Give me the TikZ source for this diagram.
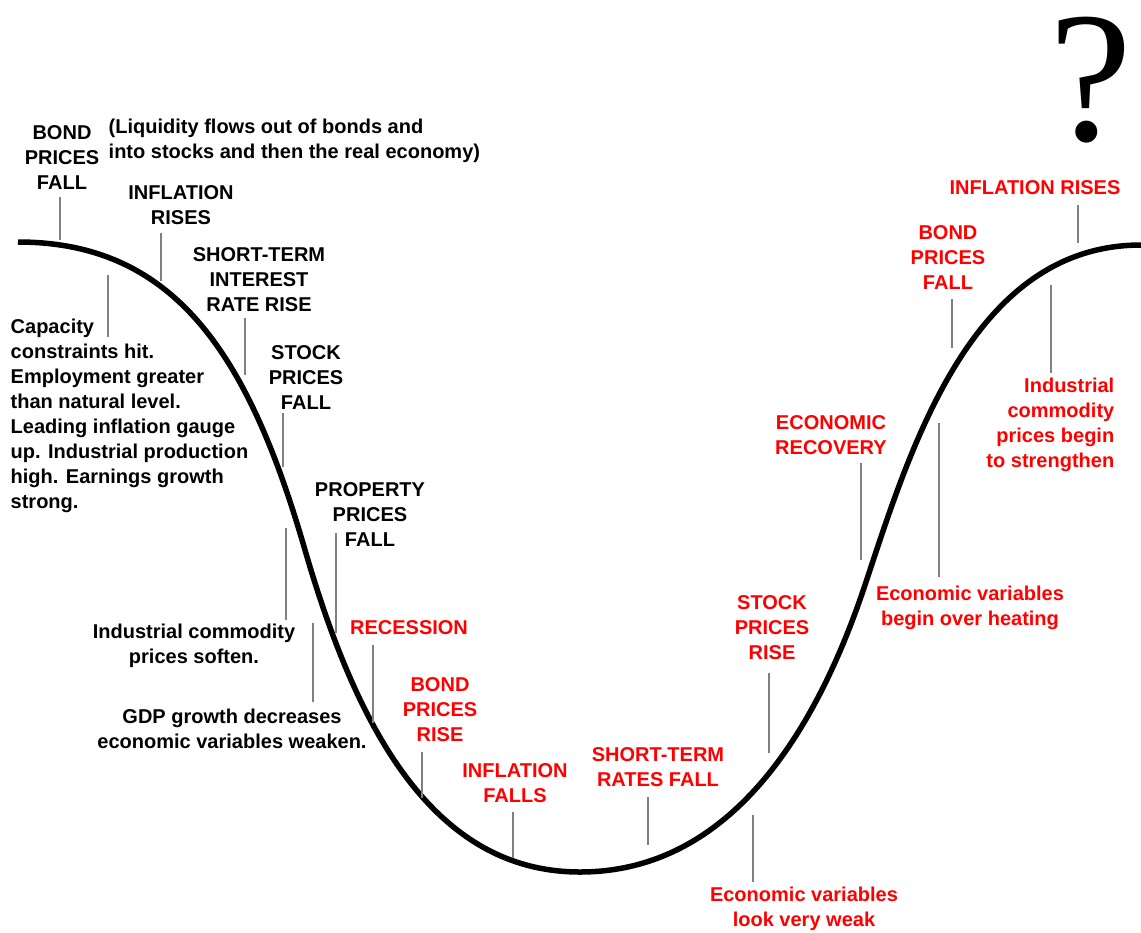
\documentclass[tikz,border=0pt]{standalone}
\usepackage{fontspec}
\setmainfont{Liberation Sans}
\newfontfamily\qmarkfont{Liberation Serif}

\definecolor{tickgray}{RGB}{128,128,128}
\definecolor{cyclered}{RGB}{255,0,0}

\tikzset{
  cycle curve/.style={line width=0.055cm},
  tick/.style={draw=tickgray, line width=0.022cm},
  lbl/.style={inner sep=0pt, align=center, anchor=north,
    font=\bfseries\fontsize{5.69}{7.11}\selectfont},
  redlbl/.style={lbl, text=cyclered},
}

\begin{document}
\begin{tikzpicture}[x=0.01cm, y=-0.01cm]

  \fill[white] (0,0) rectangle (1141,932);
  \useasboundingbox (0,0) rectangle (1141,932);

  \coordinate (peakL) at (18,242);
  \coordinate (fallmid) at (305,550);
  \coordinate (trough) at (580,872);
  \coordinate (risemid) at (865,585);
  \coordinate (peakR) at (1141,245);

  \draw[cycle curve] (peakL)
    .. controls (178,242) and (250,360) .. (fallmid)
    .. controls (355,722) and (430,872) .. (trough)
    .. controls (720,872) and (810,750) .. (risemid)
    .. controls (910,450) and (971,245) .. (peakR);

  \node[lbl] (bondfallL) at (62,125) {BOND\\PRICES\\FALL};
  \node[lbl, align=left, anchor=north west] (liquidity) at (108,118)
    {(Liquidity flows out of bonds and\\into stocks and then the real economy)};
  \node[lbl] (inflriseL) at (181,185) {INFLATION\\RISES};
  \node[lbl] (ratesrise) at (259,247) {SHORT-TERM\\INTEREST\\RATE RISE};
  \node[lbl] (stockfall) at (306,345) {STOCK\\PRICES\\FALL};
  \node[lbl] (propfall) at (370,482) {PROPERTY\\PRICES\\FALL};
  \node[lbl, align=left, anchor=north west] (capacity) at (10,318)
    {Capacity\\constraints hit.\\Employment greater\\than natural level.\\Leading inflation gauge\\up. Industrial production\\high. Earnings growth\\strong.};
  \node[lbl] (commsoft) at (194,623) {Industrial commodity\\prices soften.};
  \node[lbl] (gdpdown) at (232,708) {GDP growth decreases\\economic variables weaken.};

  \node[redlbl] (recession) at (409,620) {RECESSION};
  \node[redlbl] (bondrise) at (440,677) {BOND\\PRICES\\RISE};
  \node[redlbl] (inflfall) at (515,763) {INFLATION\\FALLS};
  \node[redlbl] (ratesfall) at (658,747) {SHORT-TERM\\RATES FALL};
  \node[redlbl] (stockrise) at (772,595) {STOCK\\PRICES\\RISE};
  \node[redlbl] (veryweak) at (804,886) {Economic variables\\look very weak};
  \node[redlbl] (recovery) at (831,415) {ECONOMIC\\RECOVERY};
  \node[redlbl] (overheat) at (970,585) {Economic variables\\begin over heating};
  \node[redlbl] (bondfallR) at (948,225) {BOND\\PRICES\\FALL};
  \node[redlbl] (inflriseR) at (1035,180) {INFLATION RISES};
  \node[redlbl, align=right, anchor=north east] (strengthen) at (1115,377)
    {Industrial\\commodity\\prices begin\\to strengthen};

  \node[inner sep=0pt, anchor=base, font=\qmarkfont\fontsize{53}{53}\selectfont]
    (qmark) at (1091,140) {?};

  \foreach \n/\x/\ya/\yb in {bfl/60/197/240, irl/161/233/281, cap/108/275/337,
      rr/245/318/375, sf/283/413/467, cs/286/528/620, pf/336/533/633,
      gdp/313/623/702, rec/373/645/723, br/422/752/798, inf/513/812/858,
      rf/648/797/845, sr/769/673/753, vw/753/815/882, eco/861/463/560,
      oh/939/423/577, bfr/952/299/348, st/1051/285/373, irr/1078/205/243} {
    \coordinate (\n-top) at (\x,\ya);
    \coordinate (\n-end) at (\x,\yb);
    \draw[tick] (\n-top) -- (\n-end);
  }

\end{tikzpicture}
\end{document}
